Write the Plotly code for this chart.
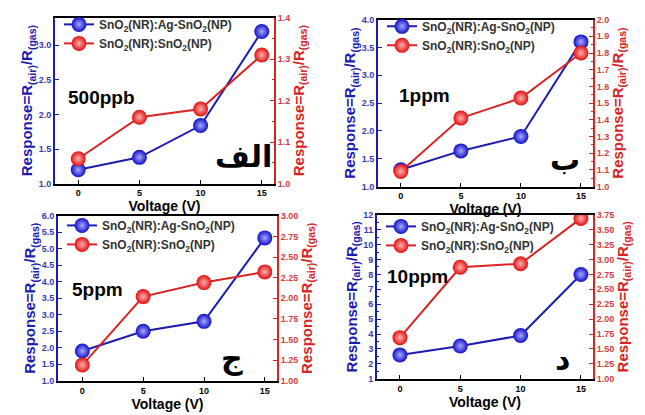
import plotly.graph_objects as go

voltage = [0, 5, 10, 15]

# panel data: blue = SnO2(NR):Ag-SnO2(NP) (left axis), red = SnO2(NR):SnO2(NP) (right axis)
p1_blue = [1.20, 1.38, 1.84, 3.20]
p1_red = [1.06, 1.16, 1.18, 1.31]
p2_blue = [1.30, 1.64, 1.90, 3.60]
p2_red = [1.09, 1.41, 1.53, 1.80]
p3_blue = [1.90, 2.50, 2.80, 5.33]
p3_red = [1.19, 2.02, 2.19, 2.32]
p4_blue = [2.60, 3.20, 3.90, 8.00]
p4_red = [1.69, 2.87, 2.93, 3.69]

conc_labels = ["500ppb", "1ppm", "5ppm", "10ppm"]
letter_labels = ["الف", "ب", "ج", "د"]
series_names = ["SnO<sub>2</sub>(NR):Ag-SnO<sub>2</sub>(NP)", "SnO<sub>2</sub>(NR):SnO<sub>2</sub>(NP)"]
y_title = "Response=R<sub>(air)</sub>/R<sub>(gas)</sub>"

left_ranges = [[1.0, 3.4], [1.0, 4.0], [1.0, 6.0], [1.0, 12.0]]
left_dticks = [0.5, 0.5, 0.5, 1]
left_fmt = [".1f", ".1f", ".1f", "d"]
right_ranges = [[1.0, 1.4], [1.0, 2.0], [1.0, 3.0], [1.0, 3.75]]
right_dticks = [0.1, 0.1, 0.25, 0.25]
right_fmt = [".1f", ".1f", ".2f", ".2f"]

W, H = 645, 415
# pixel boxes: (left, right, top, bottom)
boxes = [(55, 274, 13, 183), (378, 593, 15, 186), (58, 277, 216, 385), (377, 593, 215, 383)]
x_ranges = [[-1.9, 16], [-1.9, 16], [-2, 16], [-1.9, 16]]
legend_top = [5, 7, 211, 212]
conc_pos = [(66, 95), (397, 93), (70, 292), (385, 278)]
letter_pos = [(243, 155), (565, 158), (232, 362), (562, 362)]

BLUE = "#1c1cb0"
RED = "#d92424"
FONT = "Arial, Liberation Sans, sans-serif"

blues = [p1_blue, p2_blue, p3_blue, p4_blue]
reds = [p1_red, p2_red, p3_red, p4_red]

fig = go.Figure()
layout = dict(
    width=W, height=H, margin=dict(l=0, r=0, t=0, b=0),
    paper_bgcolor="white", plot_bgcolor="white",
    font=dict(family=FONT), showlegend=True,
)
annotations = []

for i in range(4):
    l, r, t, b = boxes[i]
    xd = [l / W, r / W]
    yd = [1 - b / H, 1 - t / H]
    xa = f"x{i+1}" if i else "x"
    ya_l = f"y{2*i+1}" if i else "y"
    ya_r = f"y{2*i+2}"
    leg = f"legend{i+1}" if i else "legend"
    fig.add_trace(go.Scatter(
        x=voltage, y=blues[i], xaxis=xa, yaxis=ya_l, mode="lines+markers",
        name=series_names[0], legend=leg,
        line=dict(color=BLUE, width=2),
        marker=dict(size=15, color="#1010c8", gradient=dict(type="radial", color="#a8a8ff"),
                    line=dict(width=0)),
    ))
    fig.add_trace(go.Scatter(
        x=voltage, y=reds[i], xaxis=xa, yaxis=ya_r, mode="lines+markers",
        name=series_names[1], legend=leg,
        line=dict(color=RED, width=2),
        marker=dict(size=15, color="#e01010", gradient=dict(type="radial", color="#ffb0b0"),
                    line=dict(width=0)),
    ))
    xk = f"xaxis{i+1}" if i else "xaxis"
    ylk = f"yaxis{2*i+1}" if i else "yaxis"
    yrk = f"yaxis{2*i+2}"
    layout[xk] = dict(
        domain=xd, anchor=ya_l, range=x_ranges[i], tickvals=[0, 5, 10, 15],
        ticks="inside", ticklen=4, tickcolor="black", showline=True, linecolor="black",
        linewidth=2, mirror=True, showgrid=False, zeroline=False,
        tickfont=dict(size=9, color="black", family=FONT, weight="bold"),
        title=dict(text="Voltage (V)", font=dict(size=14, color="black", family=FONT, weight="bold"),
                   standoff=2),
    )
    layout[ylk] = dict(
        domain=yd, anchor=xa, range=left_ranges[i], dtick=left_dticks[i], tick0=1,
        tickformat=left_fmt[i], ticks="inside", ticklen=4, tickcolor=BLUE,
        minor=dict(ticks="inside", ticklen=2, tickcolor=BLUE, nticks=2),
        showline=True, linecolor=BLUE, linewidth=2, showgrid=False, zeroline=False,
        tickfont=dict(size=9, color="#3a3ab0", family=FONT, weight="bold"),
        title=dict(text=y_title,
                   font=dict(size=15, color=BLUE, family=FONT, weight="bold"), standoff=2),
    )
    layout[yrk] = dict(
        domain=yd, anchor=xa, overlaying=ya_l, side="right", range=right_ranges[i],
        dtick=right_dticks[i], tick0=1, tickformat=right_fmt[i], ticks="inside", ticklen=4,
        minor=dict(ticks="inside", ticklen=2, tickcolor=RED, nticks=2),
        tickcolor=RED, showline=True, linecolor=RED, linewidth=2, showgrid=False,
        zeroline=False,
        tickfont=dict(size=9, color="#d04040", family=FONT, weight="bold"),
        title=dict(text=y_title,
                   font=dict(size=15, color=RED, family=FONT, weight="bold"), standoff=4),
    )
    layout[leg] = dict(
        x=(l + 4) / W, y=1 - legend_top[i] / H, xanchor="left", yanchor="top",
        bgcolor="rgba(0,0,0,0)", borderwidth=0, tracegroupgap=0,
        font=dict(size=12, color="#333333", family=FONT, weight="bold"),
        itemwidth=30,
    )
    cx, cy = conc_pos[i]
    annotations.append(dict(
        text=conc_labels[i], x=cx / W, y=1 - cy / H, xref="paper", yref="paper",
        xanchor="left", yanchor="middle", showarrow=False,
        font=dict(size=19, color="black", family=FONT, weight="bold"),
    ))
    lx, ly = letter_pos[i]
    annotations.append(dict(
        text=letter_labels[i], x=lx / W, y=1 - ly / H, xref="paper", yref="paper",
        xanchor="center", yanchor="middle", showarrow=False,
        font=dict(size=30, color="black", family="DejaVu Sans, sans-serif", weight="bold"),
    ))

layout["annotations"] = annotations
fig.update_layout(**layout)
fig.write_html("out.html")
